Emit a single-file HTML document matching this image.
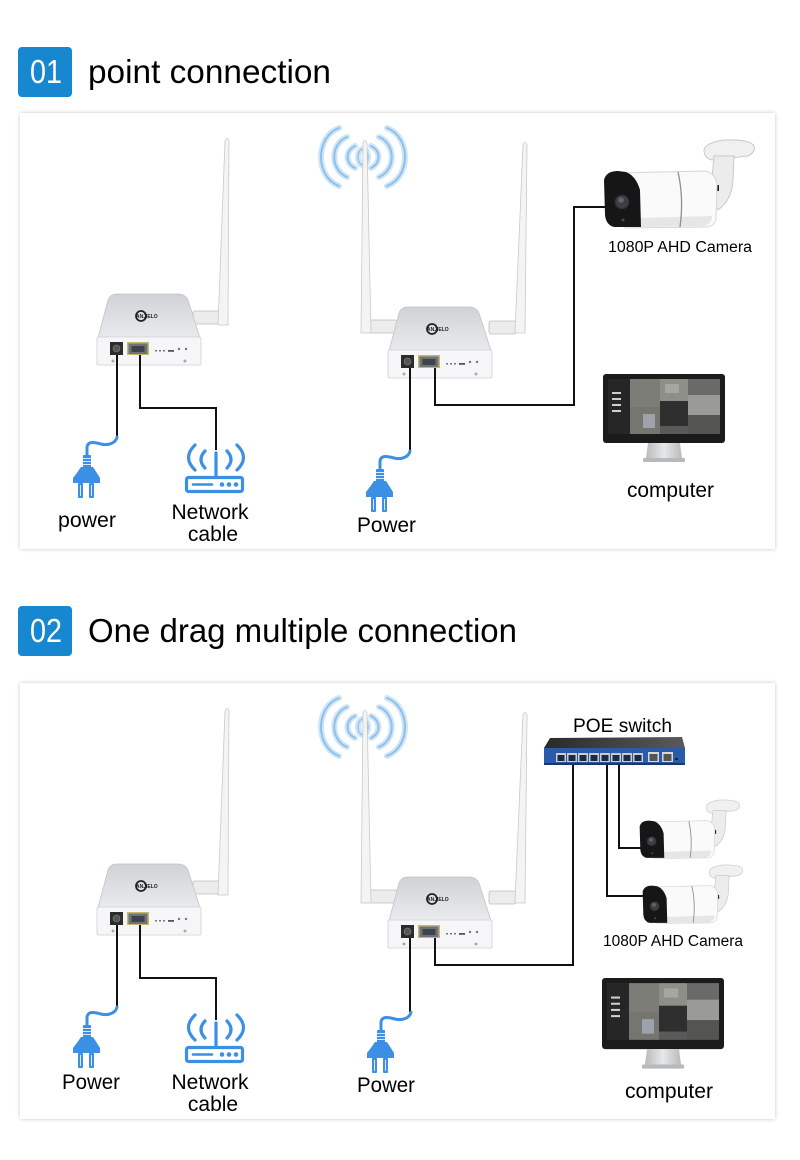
<!DOCTYPE html>
<html><head><meta charset="utf-8"><style>
html,body{margin:0;padding:0;background:#fff;}
body{width:800px;height:1160px;position:relative;overflow:hidden;font-family:"Liberation Sans",sans-serif;}
.card{position:absolute;left:20px;width:755px;height:436px;background:#fff;box-shadow:0 0 4px rgba(0,0,0,0.22);}
svg{position:absolute;left:0;top:0;}
text{font-family:"Liberation Sans",sans-serif;}
</style></head><body>
<div class="card" style="top:113px"></div>
<div class="card" style="top:683px"></div>
<svg width="800" height="1160" viewBox="0 0 800 1160" xmlns="http://www.w3.org/2000/svg">
<defs>
 <linearGradient id="gtop" x1="0" y1="0" x2="0" y2="1"><stop offset="0" stop-color="#d0d2d6"/><stop offset="1" stop-color="#e9ebee"/></linearGradient>
 <linearGradient id="gst" x1="0" y1="0" x2="1" y2="0"><stop offset="0" stop-color="#b9babd"/><stop offset=".5" stop-color="#e6e7e9"/><stop offset="1" stop-color="#b9babd"/></linearGradient>
 <linearGradient id="gsw" x1="0" y1="0" x2="1" y2="0"><stop offset="0" stop-color="#2a2a2c"/><stop offset="1" stop-color="#5a5a5e"/></linearGradient>
 <g id="rb">
  <path d="M98,338 L108,300 Q110,294 117,294 L178,294 Q185,294 188,300 L200,338 Z" fill="url(#gtop)" stroke="#c2c4c8" stroke-width="0.8"/>
  <rect x="97" y="337" width="104" height="28" rx="1.5" fill="#f6f6f8" stroke="#cfd0d4" stroke-width="0.8"/>
  <rect x="110" y="342" width="13" height="13" fill="#2b2b2b"/>
  <circle cx="116.5" cy="348.5" r="3.5" fill="#555" stroke="#8a8a8a" stroke-width=".6"/>
  <rect x="127" y="342" width="22" height="13" fill="#c6b86a"/>
  <rect x="128.5" y="343.5" width="19" height="10.5" fill="#6d737b"/>
  <rect x="131.5" y="346" width="13" height="6" fill="#3f444b"/>
  <rect x="155" y="350" width="2" height="1.5" fill="#777"/>
  <rect x="159" y="350" width="2" height="1.5" fill="#777"/>
  <rect x="163" y="350" width="2" height="1.5" fill="#777"/>
  <rect x="168" y="350" width="6" height="1.8" fill="#555"/>
  <circle cx="179" cy="349" r="1.2" fill="#777"/>
  <circle cx="186" cy="349" r="1.2" fill="#777"/>
  <circle cx="113" cy="361" r="1.5" fill="#aaa"/>
  <circle cx="185" cy="361" r="1.5" fill="#aaa"/>
  <circle cx="141" cy="316" r="5" fill="none" stroke="#222" stroke-width="1.8"/>
 </g>
 <g id="waves" fill="none" stroke-linecap="round">
  <g stroke="#cfe5f7" stroke-width="6">
   <path d="M-24,-29 C-48,-20 -48,20 -24,29"/><path d="M24,-29 C48,-20 48,20 24,29"/>
   <path d="M-16,-20 C-33,-13 -33,13 -16,20"/><path d="M16,-20 C33,-13 33,13 16,20"/>
   <path d="M-8,-11 C-18,-6 -18,6 -8,11"/><path d="M8,-11 C18,-6 18,6 8,11"/>
   <ellipse cx="0" cy="0" rx="5" ry="8"/>
  </g>
  <g stroke="#8cc1ec" stroke-width="2">
   <path d="M-24,-29 C-48,-20 -48,20 -24,29"/><path d="M24,-29 C48,-20 48,20 24,29"/>
   <path d="M-16,-20 C-33,-13 -33,13 -16,20"/><path d="M16,-20 C33,-13 33,13 16,20"/>
   <path d="M-8,-11 C-18,-6 -18,6 -8,11"/><path d="M8,-11 C18,-6 18,6 8,11"/>
   <ellipse cx="0" cy="0" rx="5" ry="8" stroke-width="1.2"/>
  </g>
 </g>
 <g id="plug" fill="#3b8fe4">
  <path d="M0,0 C-1,6 -9,9 -16,7 C-23,5 -29,4 -30,10 L-30,18" fill="none" stroke="#3b8fe4" stroke-width="3" stroke-linecap="round"/>
  <rect x="-34" y="18" width="8" height="13" rx="1"/>
  <g stroke="#fff" stroke-width="0.8"><line x1="-34" y1="21.5" x2="-26" y2="21.5"/><line x1="-34" y1="24.5" x2="-26" y2="24.5"/><line x1="-34" y1="27.5" x2="-26" y2="27.5"/></g>
  <path d="M-36,30 L-24,30 Q-20,36 -17,41 L-17,46 L-44,46 L-44,41 Q-40,36 -36,30 Z"/>
  <rect x="-39" y="46" width="5" height="15" rx="1"/>
  <rect x="-28" y="46" width="5" height="15" rx="1"/>
  <g stroke="#dbe9fa" stroke-width="1"><line x1="-36.5" y1="48" x2="-36.5" y2="59"/><line x1="-25.5" y1="48" x2="-25.5" y2="59"/></g>
 </g>
 <g id="ricon" fill="none" stroke="#3b8fe4" stroke-width="3.2" stroke-linecap="round">
  <rect x="-29.5" y="27.5" width="56" height="14" rx="2"/>
  <line x1="-23" y1="34.5" x2="-4" y2="34.5" stroke-width="2.6"/>
  <line x1="0" y1="3" x2="0" y2="27"/>
  <path d="M-11,1 Q-19,9.5 -11,18"/>
  <path d="M11,1 Q19,9.5 11,18"/>
  <path d="M-21,-5 Q-34,7.5 -21,20"/>
  <path d="M21,-5 Q34,7.5 21,20"/>
  <g fill="#3b8fe4" stroke="none"><circle cx="6" cy="34.5" r="2.3"/><circle cx="13" cy="34.5" r="2.3"/><circle cx="20" cy="34.5" r="2.3"/></g>
 </g>
 <g id="cam">
  <path d="M104,10 Q106,2 125,0 Q150,-1 154,6 Q156,12 148,16 L112,20 Q104,18 104,10 Z" fill="#f0f0f0" stroke="#c9c9c9" stroke-width="1"/>
  <path d="M114,16 L134,16 L133,40 Q132,60 118,70 L110,60 Z" fill="#ececec" stroke="#c9c9c9" stroke-width="1"/>
  <rect x="114" y="45" width="5" height="6" fill="#222"/>
  <path d="M20,33 L105,31 Q116,33 117,45 L116,78 Q115,87 105,87 L25,88 Z" fill="#fafafa" stroke="#d6d6d6" stroke-width="1"/>
  <path d="M40,78 L112,76 Q112,84 104,86 L40,87 Z" fill="#e6e6e6"/>
  <path d="M78,32 Q84,58 80,87" fill="none" stroke="#8e8e8e" stroke-width="1.3"/>
  <path d="M4,40 Q6,31 18,31 L26,32 Q36,36 40,50 L41,87 L14,87 Q6,85 5,75 Z" fill="#161616"/>
  <circle cx="22" cy="62" r="7" fill="#3b3e44" stroke="#2a2a2a" stroke-width="1"/>
  <circle cx="21" cy="60" r="2.8" fill="#60656d"/>
  <circle cx="23" cy="80" r="1.5" fill="#4a4a4a"/>
 </g>
 <g id="mon">
  <rect x="0" y="0" width="122" height="69" rx="3" fill="#1b1b1b"/>
  <rect x="5" y="5" width="112" height="55" fill="#3d3d3d"/>
  <rect x="5" y="5" width="22" height="55" fill="#262626"/>
  <g fill="#cfcfcf"><rect x="9" y="18" width="9" height="2"/><rect x="9" y="24" width="9" height="2"/><rect x="9" y="30" width="9" height="2"/><rect x="9" y="36" width="9" height="2"/></g>
  <rect x="27" y="5" width="30" height="28" fill="#7c7d77"/>
  <rect x="57" y="5" width="28" height="22" fill="#8d8f88"/>
  <rect x="85" y="5" width="32" height="16" fill="#6a6a68"/>
  <rect x="85" y="21" width="32" height="20" fill="#9a9b96"/>
  <rect x="57" y="27" width="28" height="25" fill="#2f2f2f"/>
  <rect x="27" y="33" width="30" height="27" fill="#75766f"/>
  <rect x="40" y="40" width="12" height="14" fill="#9ea3ab"/>
  <rect x="57" y="52" width="28" height="8" fill="#5a5a58"/>
  <rect x="85" y="41" width="32" height="19" fill="#545452"/>
  <rect x="62" y="10" width="14" height="9" fill="#a6a89f"/>
  <path d="M45,69 L77,69 L79,84 L43,84 Z" fill="url(#gst)"/>
  <rect x="40" y="84" width="42" height="4" rx="1" fill="#b8b9bb"/>
 </g>
</defs>

<!-- headers -->
<rect x="18" y="47" width="54" height="50" rx="4" fill="#1787cf"/>
<text x="30" y="83" font-size="33" fill="#fff" textLength="32" lengthAdjust="spacingAndGlyphs">01</text>
<text x="88" y="83" font-size="33" fill="#000" textLength="243" lengthAdjust="spacingAndGlyphs">point connection</text>
<rect x="18" y="606" width="54" height="50" rx="4" fill="#1787cf"/>
<text x="30" y="642" font-size="33" fill="#fff" textLength="32" lengthAdjust="spacingAndGlyphs">02</text>
<text x="88" y="642" font-size="33" fill="#000" textLength="429" lengthAdjust="spacingAndGlyphs">One drag multiple connection</text>

<!-- ===== CARD 1 ===== -->
<use href="#waves" transform="translate(363,157)"/>
<!-- antennas r1 -->
<rect x="193" y="311" width="30" height="13" rx="2" fill="#ececec" stroke="#bdbdbd" stroke-width=".8"/>
<path d="M218,325 L225,141 Q227,136 229,141 L228,325 Z" fill="#f4f4f4" stroke="#c9c9c9" stroke-width=".8"/>
<!-- antennas r2 -->
<rect x="366" y="320" width="31" height="13" rx="2" fill="#ececec" stroke="#bdbdbd" stroke-width=".8"/>
<path d="M361,333 L363,143 Q365,138 367,143 L371,333 Z" fill="#f4f4f4" stroke="#c9c9c9" stroke-width=".8"/>
<rect x="489" y="321" width="27" height="13" rx="2" fill="#ececec" stroke="#bdbdbd" stroke-width=".8"/>
<path d="M515,333 L523,145 Q525,140 527,145 L525,333 Z" fill="#f4f4f4" stroke="#c9c9c9" stroke-width=".8"/>
<use href="#rb"/>
<text x="136" y="318" font-size="5" font-weight="bold" fill="#222">ANJIELO</text>
<use href="#rb" transform="translate(291,13)"/>
<text x="427" y="331" font-size="5" font-weight="bold" fill="#222">ANJIELO</text>

<!-- lines card 1 -->
<g fill="none" stroke="#111" stroke-width="2">
 <path d="M117,355 V437"/>
 <path d="M140,355 V408 H216 V450"/>
 <path d="M410,368 V451"/>
 <path d="M435,368 V405 H574 V207 H608"/>
</g>
<use href="#plug" transform="translate(117,437)"/>
<use href="#ricon" transform="translate(216,450)"/>
<use href="#plug" transform="translate(410,451)"/>
<use href="#cam" transform="translate(600,140)"/>
<use href="#mon" transform="translate(603,374)"/>

<g font-size="21" fill="#000">
 <text x="58" y="527" textLength="58" lengthAdjust="spacingAndGlyphs">power</text>
 <text x="210" y="519" text-anchor="middle">Network</text>
 <text x="213" y="541" text-anchor="middle">cable</text>
 <text x="357" y="532" textLength="59" lengthAdjust="spacingAndGlyphs">Power</text>
 <text x="627" y="497" textLength="87" lengthAdjust="spacingAndGlyphs">computer</text>
</g>
<text x="608" y="252" font-size="15.5" fill="#000" textLength="144" lengthAdjust="spacingAndGlyphs">1080P AHD Camera</text>

<!-- ===== CARD 2 ===== -->
<use href="#waves" transform="translate(363,727)"/>
<rect x="193" y="881" width="30" height="13" rx="2" fill="#ececec" stroke="#bdbdbd" stroke-width=".8"/>
<path d="M218,895 L225,711 Q227,706 229,711 L228,895 Z" fill="#f4f4f4" stroke="#c9c9c9" stroke-width=".8"/>
<rect x="366" y="890" width="31" height="13" rx="2" fill="#ececec" stroke="#bdbdbd" stroke-width=".8"/>
<path d="M361,903 L363,713 Q365,708 367,713 L371,903 Z" fill="#f4f4f4" stroke="#c9c9c9" stroke-width=".8"/>
<rect x="489" y="891" width="27" height="13" rx="2" fill="#ececec" stroke="#bdbdbd" stroke-width=".8"/>
<path d="M515,903 L523,715 Q525,710 527,715 L525,903 Z" fill="#f4f4f4" stroke="#c9c9c9" stroke-width=".8"/>
<use href="#rb" transform="translate(0,570)"/>
<text x="136" y="888" font-size="5" font-weight="bold" fill="#222">ANJIELO</text>
<use href="#rb" transform="translate(291,583)"/>
<text x="427" y="901" font-size="5" font-weight="bold" fill="#222">ANJIELO</text>

<!-- POE switch -->
<polygon points="550,738 682,737 685,748 544,748" fill="url(#gsw)"/>
<rect x="544" y="748" width="141" height="17" fill="#2a5aa8"/>
<rect x="544" y="763" width="141" height="2" fill="#1a3768"/>
<g>
 <rect x="556" y="753" width="10" height="9" fill="#c9ccd3"/><rect x="557.5" y="755" width="7" height="6" fill="#1d2a44"/>
 <rect x="567" y="753" width="10" height="9" fill="#c9ccd3"/><rect x="568.5" y="755" width="7" height="6" fill="#1d2a44"/>
 <rect x="578" y="753" width="10" height="9" fill="#c9ccd3"/><rect x="579.5" y="755" width="7" height="6" fill="#1d2a44"/>
 <rect x="589" y="753" width="10" height="9" fill="#c9ccd3"/><rect x="590.5" y="755" width="7" height="6" fill="#1d2a44"/>
 <rect x="600" y="753" width="10" height="9" fill="#c9ccd3"/><rect x="601.5" y="755" width="7" height="6" fill="#1d2a44"/>
 <rect x="611" y="753" width="10" height="9" fill="#c9ccd3"/><rect x="612.5" y="755" width="7" height="6" fill="#1d2a44"/>
 <rect x="622" y="753" width="10" height="9" fill="#c9ccd3"/><rect x="623.5" y="755" width="7" height="6" fill="#1d2a44"/>
 <rect x="633" y="753" width="10" height="9" fill="#c9ccd3"/><rect x="634.5" y="755" width="7" height="6" fill="#1d2a44"/>
 <rect x="648" y="752" width="11" height="10" fill="#d8d8d8"/><rect x="649.5" y="754" width="8" height="7" fill="#555"/>
 <rect x="662" y="752" width="11" height="10" fill="#d8d8d8"/><rect x="663.5" y="754" width="8" height="7" fill="#555"/>
 <rect x="675" y="758" width="3" height="2" fill="#222"/>
</g>
<text x="573" y="732" font-size="19" fill="#000" textLength="99" lengthAdjust="spacingAndGlyphs">POE switch</text>

<g fill="none" stroke="#111" stroke-width="2">
 <path d="M117,925 V1007"/>
 <path d="M140,925 V978 H216 V1020"/>
 <path d="M410,938 V1012"/>
 <path d="M435,938 V965 H573 V765"/>
 <path d="M607,765 V896 H645"/>
 <path d="M619,765 V848 H645"/>
</g>
<use href="#plug" transform="translate(117,1007)"/>
<use href="#ricon" transform="translate(216,1020)"/>
<use href="#plug" transform="translate(411,1012)"/>
<use href="#cam" transform="translate(637,800) scale(0.665)"/>
<use href="#cam" transform="translate(640,865) scale(0.665)"/>
<use href="#mon" transform="translate(602,978) scale(1,1.03)"/>

<g font-size="21" fill="#000">
 <text x="62" y="1089" textLength="58" lengthAdjust="spacingAndGlyphs">Power</text>
 <text x="210" y="1089" text-anchor="middle">Network</text>
 <text x="213" y="1111" text-anchor="middle">cable</text>
 <text x="357" y="1092" textLength="58" lengthAdjust="spacingAndGlyphs">Power</text>
 <text x="625" y="1098" textLength="88" lengthAdjust="spacingAndGlyphs">computer</text>
</g>
<text x="603" y="946" font-size="15.5" fill="#000" textLength="140" lengthAdjust="spacingAndGlyphs">1080P AHD Camera</text>
</svg>
</body></html>
